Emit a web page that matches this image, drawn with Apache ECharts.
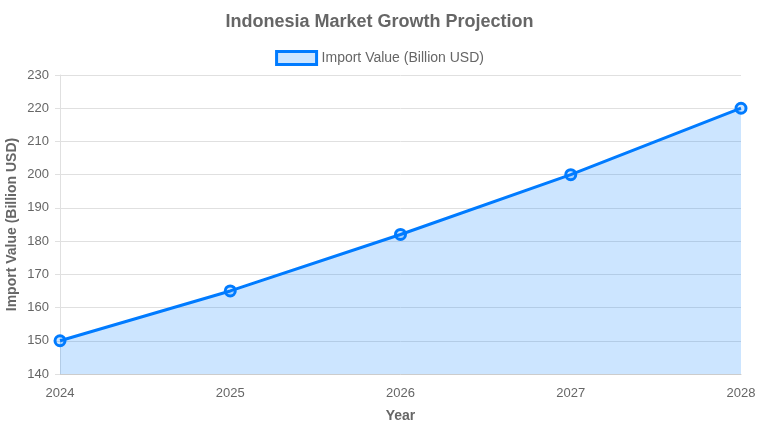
<!DOCTYPE html>
<html><head><meta charset="utf-8">
<script src="https://cdn.jsdelivr.net/npm/echarts@6/dist/echarts.min.js"></script>
<style>html,body{margin:0;padding:0;background:#fff}#c{width:759px;height:429px}</style>
</head><body><div id="c"></div>
<script>
const years = ['2024', '2025', '2026', '2027', '2028'];
const importValues = [150, 165, 182, 200, 220];
const seriesName = 'Import Value (Billion USD)';
const yTicks = { min: 140, max: 230, interval: 10 };

const chart = echarts.init(document.getElementById('c'));
chart.setOption({
  animation: false,
  textStyle: { fontFamily: 'Liberation Sans, Arial, sans-serif' },
  title: {
    text: 'Indonesia Market Growth Projection',
    left: 'center', top: 8,
    textStyle: { fontSize: 18, fontWeight: 'bold', color: '#666' }
  },
  legend: {
    top: 45, left: 'center',
    data: [seriesName],
    icon: 'rect', itemWidth: 40, itemHeight: 13, itemGap: 10,
    itemStyle: { color: 'rgba(0,123,255,0.2)', borderColor: '#007bff', borderWidth: 3 },
    textStyle: { fontSize: 14, color: '#666' }
  },
  grid: { left: 60, right: 18, top: 75, bottom: 55, containLabel: false, outerBoundsMode: 'none' },
  xAxis: {
    type: 'category', data: years, boundaryGap: false,
    name: 'Year', nameLocation: 'middle', nameGap: 35, nameMoveOverlap: false,
    nameTextStyle: { fontSize: 14, fontWeight: 'bold', color: '#666' },
    axisLine: { lineStyle: { color: '#ccc' } },
    axisTick: { show: false },
    axisLabel: { fontSize: 13, color: '#666', margin: 13 },
    splitLine: { show: false }
  },
  yAxis: {
    type: 'value', min: yTicks.min, max: yTicks.max, interval: yTicks.interval,
    name: seriesName, nameLocation: 'middle', nameGap: 41, nameMoveOverlap: false,
    nameTextStyle: { fontSize: 14, fontWeight: 'bold', color: '#666' },
    axisLine: { show: true, lineStyle: { color: '#e0e0e0' } },
    axisTick: { show: true, length: 5, lineStyle: { color: '#e0e0e0' } },
    axisLabel: { fontSize: 13, color: '#666', margin: 11 },
    splitLine: { lineStyle: { color: '#e0e0e0' } }
  },
  series: [{
    name: seriesName, type: 'line', data: importValues,
    symbol: 'circle', symbolSize: 10, showAllSymbol: true,
    lineStyle: { color: '#007bff', width: 3 },
    itemStyle: { color: 'rgba(0,123,255,0.2)', borderColor: '#007bff', borderWidth: 3 },
    areaStyle: { color: 'rgba(0,123,255,0.2)', opacity: 1 }
  }]
});
</script></body></html>
